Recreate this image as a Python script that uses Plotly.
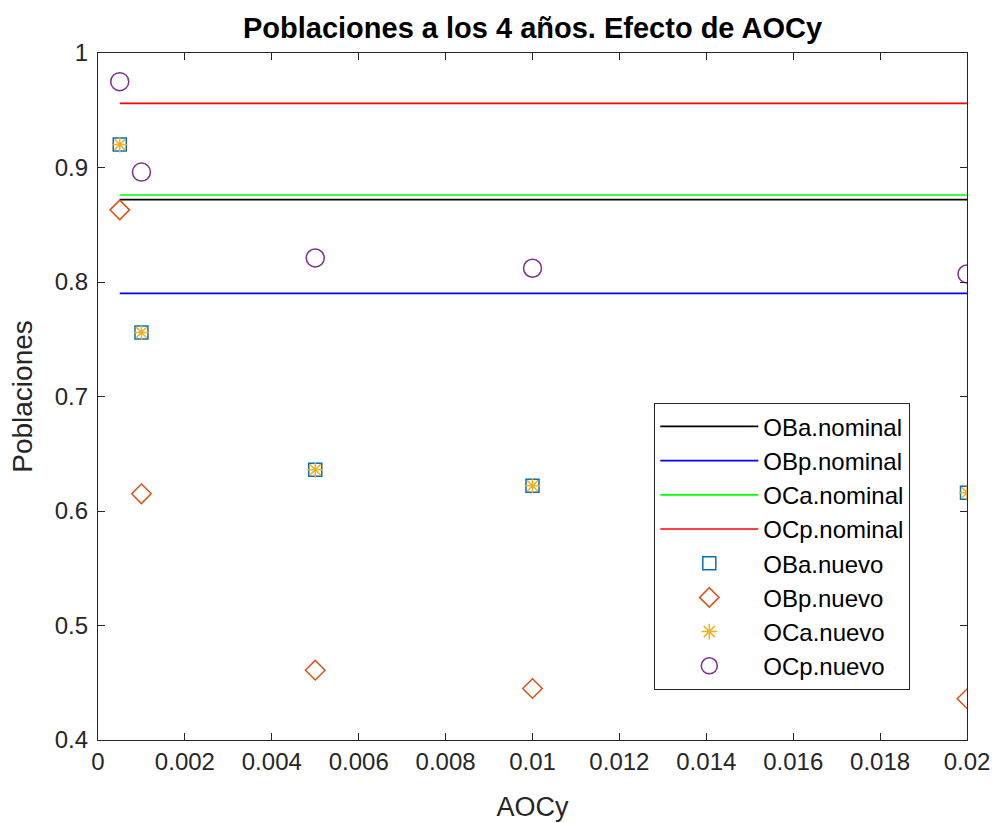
import plotly.graph_objects as go

# AOCy values tested
aocy = [0.0005, 0.001, 0.005, 0.01, 0.02]

# Nominal population levels (horizontal reference lines)
nominal_names = ["OBa.nominal", "OBp.nominal", "OCa.nominal", "OCp.nominal"]
nominal_values = [0.872, 0.790, 0.876, 0.956]
nominal_colors = ["#000000", "#0000FF", "#00FF00", "#FF0000"]

# Populations after 4 years for each AOCy value
oba_nuevo = [0.920, 0.756, 0.636, 0.622, 0.616]
obp_nuevo = [0.863, 0.615, 0.461, 0.445, 0.436]
oca_nuevo = [0.920, 0.756, 0.636, 0.622, 0.616]
ocp_nuevo = [0.975, 0.896, 0.821, 0.812, 0.807]

FONT = "Liberation Sans, Arial, Helvetica, sans-serif"
AX = "#262626"

fig = go.Figure()

for name, val, col in zip(nominal_names, nominal_values, nominal_colors):
    fig.add_trace(go.Scatter(
        x=[aocy[0], aocy[-1]], y=[val, val], mode="lines", name=name,
        line=dict(color=col, width=1.7)))

markers = [
    ("OBa.nuevo", oba_nuevo, "square-open", "#0072BD", 13),
    ("OBp.nuevo", obp_nuevo, "diamond-open", "#D95319", 15),
    ("OCa.nuevo", oca_nuevo, "asterisk-open", "#EDB120", 13),
    ("OCp.nuevo", ocp_nuevo, "circle-open", "#7E2F8E", 18),
]
for name, vals, sym, col, size in markers:
    fig.add_trace(go.Scatter(
        x=aocy, y=vals, mode="markers", name=name,
        marker=dict(symbol=sym, color=col, size=size,
                    line=dict(color=col, width=1.5))))

axis_common = dict(
    showgrid=False, zeroline=False, showline=True, linecolor=AX, linewidth=1.3,
    mirror="allticks", ticks="inside", ticklen=7, tickcolor=AX, tickwidth=1.3,
    tickfont=dict(family=FONT, size=24, color=AX), automargin=False,
)

fig.update_layout(
    width=994, height=823,
    margin=dict(l=98, r=27, t=53, b=83),
    paper_bgcolor="white", plot_bgcolor="white",
    font=dict(family=FONT, color=AX),
    title=dict(text="<b>Poblaciones a los 4 años. Efecto de AOCy</b>",
               x=(98 + 967) / 2 / 994, xanchor="center",
               y=1 - 28 / 823, yanchor="middle",
               font=dict(family=FONT, size=29, color="#000000")),
    xaxis=dict(range=[0, 0.02], dtick=0.002, tick0=0,
               title=dict(text="AOCy", font=dict(family=FONT, size=27, color=AX),
                          standoff=23),
               **axis_common),
    yaxis=dict(range=[0.4, 1.0], dtick=0.1, tick0=0.4, ticklabelstandoff=4,
               title=dict(text="Poblaciones", font=dict(family=FONT, size=28, color=AX),
                          standoff=13),
               **axis_common),
    legend=dict(x=(654 - 98) / 869, y=(740 - 403) / 687, xanchor="left", yanchor="top",
                bgcolor="white", bordercolor=AX, borderwidth=1.3,
                font=dict(family=FONT, size=24, color="#000000"),
                itemwidth=98, tracegroupgap=0),
    showlegend=True,
)

fig.write_html("out.html")
